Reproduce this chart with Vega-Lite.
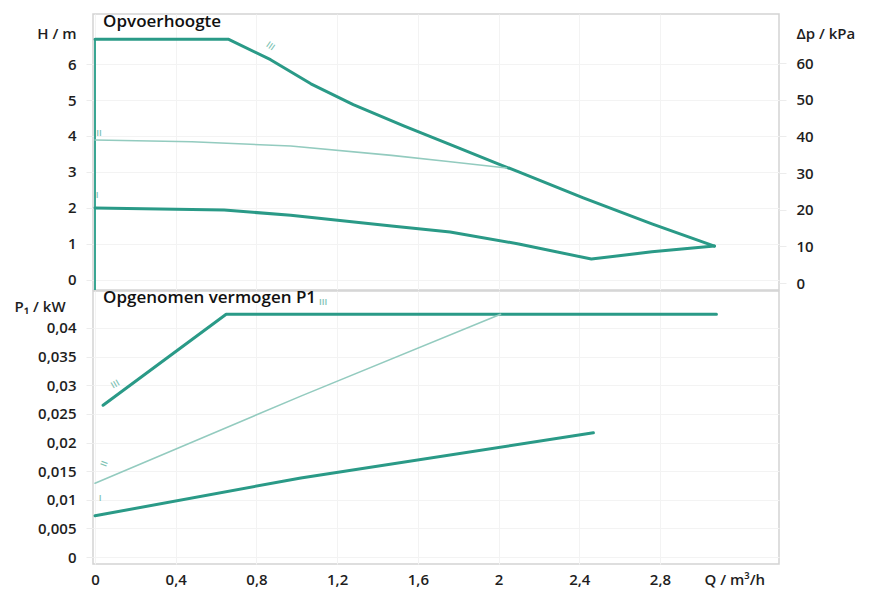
{
  "$schema": "https://vega.github.io/schema/vega-lite/v6.json",
  "autosize": {"type": "pad"},
  "padding": {"left": 13, "top": 12, "right": 0, "bottom": 0},
  "background": "white",
  "spacing": 1,
  "bounds": "flush",
  "config": {
    "font": "Open Sans",
    "view": {"stroke": "#d3d3d3", "strokeWidth": 1.5},
    "axis": {
      "labelFont": "Open Sans", "labelFontSize": 15, "labelFontWeight": 600, "labelColor": "#1e1e1e", "labelOverlap": false,
      "titleFont": "Open Sans", "titleFontSize": 15, "titleFontWeight": 600, "titleColor": "#1e1e1e",
      "domain": false, "gridColor": "#f3f3f3", "tickColor": "#ececec", "tickSize": 7, "labelPadding": 10
    }
  },
  "datasets": {
    "head": [
      {"curve": "III", "Q": 0, "H": 6.69}, {"curve": "III", "Q": 0.66, "H": 6.69}, {"curve": "III", "Q": 0.87, "H": 6.12},
      {"curve": "III", "Q": 1.07, "H": 5.45}, {"curve": "III", "Q": 1.28, "H": 4.87}, {"curve": "III", "Q": 1.53, "H": 4.28},
      {"curve": "III", "Q": 1.78, "H": 3.72}, {"curve": "III", "Q": 2.01, "H": 3.2}, {"curve": "III", "Q": 2.1, "H": 3.0},
      {"curve": "III", "Q": 2.42, "H": 2.28}, {"curve": "III", "Q": 2.76, "H": 1.56}, {"curve": "III", "Q": 3.07, "H": 0.94},
      {"curve": "II", "Q": 0, "H": 3.89}, {"curve": "II", "Q": 0.48, "H": 3.84}, {"curve": "II", "Q": 0.97, "H": 3.72},
      {"curve": "II", "Q": 1.47, "H": 3.46}, {"curve": "II", "Q": 1.75, "H": 3.29}, {"curve": "II", "Q": 2.04, "H": 3.11},
      {"curve": "I", "Q": 0, "H": 2.0}, {"curve": "I", "Q": 0.64, "H": 1.94}, {"curve": "I", "Q": 0.97, "H": 1.8},
      {"curve": "I", "Q": 1.47, "H": 1.5}, {"curve": "I", "Q": 1.76, "H": 1.33}, {"curve": "I", "Q": 2.1, "H": 1.0},
      {"curve": "I", "Q": 2.46, "H": 0.58}, {"curve": "I", "Q": 2.76, "H": 0.78}, {"curve": "I", "Q": 3.07, "H": 0.94}
    ],
    "power": [
      {"curve": "III", "Q": 0.04, "P": 0.0265}, {"curve": "III", "Q": 0.65, "P": 0.0424}, {"curve": "III", "Q": 3.08, "P": 0.0424},
      {"curve": "II", "Q": 0, "P": 0.0129}, {"curve": "II", "Q": 1.02, "P": 0.0281}, {"curve": "II", "Q": 2.01, "P": 0.0424},
      {"curve": "I", "Q": 0, "P": 0.0072}, {"curve": "I", "Q": 1.02, "P": 0.0138}, {"curve": "I", "Q": 2.47, "P": 0.0217}
    ]
  },
  "vconcat": [
    {
      "width": 686,
      "height": 276,
      "resolve": {"scale": {"y": "independent"}},
      "layer": [
        {
          "layer": [
            {
              "data": {"values": [{"Q": 0, "H": -0.28, "H2": 6.69}]},
              "mark": {"type": "rule", "color": "#3aa693", "strokeWidth": 2},
              "encoding": {
                "x": {"field": "Q", "type": "quantitative", "scale": {"domain": [-0.01, 3.39], "nice": false, "zero": false},
                      "axis": {"labels": false, "ticks": false, "title": null, "grid": true, "tickCount": 20, "values": [0, 0.4, 0.8, 1.2, 1.6, 2, 2.4, 2.8]}},
                "y": {"field": "H", "type": "quantitative", "scale": {"domain": [-0.28, 7.39], "nice": false, "zero": false},
                      "axis": {"values": [0, 1, 2, 3, 4, 5, 6], "tickCount": 20, "format": "d", "title": "H / m", "titleAngle": 0, "titleAlign": "right", "titleBaseline": "middle", "titleX": -17, "titleY": 19, "grid": true}},
                "y2": {"field": "H2"}
              }
            },
            {
              "data": {"name": "head"},
              "mark": {"type": "line", "strokeCap": "round", "strokeJoin": "round"},
              "encoding": {
                "x": {"field": "Q", "type": "quantitative"},
                "y": {"field": "H", "type": "quantitative"},
                "detail": {"field": "curve", "type": "nominal"},
                "color": {"condition": {"test": "datum.curve === 'II'", "value": "#93cbbf"}, "value": "#2a9a87"},
                "strokeWidth": {"condition": {"test": "datum.curve === 'II'", "value": 1.6}, "value": 3}
              }
            },
            {
              "data": {"values": [
                {"t": "III", "Q": 0.87, "H": 6.5, "a": 35},
                {"t": "II", "Q": 0.02, "H": 4.08, "a": 0},
                {"t": "I", "Q": 0.01, "H": 2.35, "a": 0}
              ]},
              "mark": {"type": "text", "fontSize": 9, "color": "#7cc2b3", "fontWeight": 600, "align": "center", "baseline": "middle"},
              "encoding": {
                "x": {"field": "Q", "type": "quantitative"},
                "y": {"field": "H", "type": "quantitative"},
                "text": {"field": "t"},
                "angle": {"field": "a", "type": "quantitative", "scale": null}
              }
            },
            {
              "data": {"values": [{"t": "Opvoerhoogte", "Q": 0.04, "H": 7.17}]},
              "mark": {"type": "text", "fontSize": 17, "fontWeight": 600, "color": "#111111", "align": "left", "baseline": "middle"},
              "encoding": {
                "x": {"field": "Q", "type": "quantitative"},
                "y": {"field": "H", "type": "quantitative"},
                "text": {"field": "t"}
              }
            }
          ]
        },
        {
          "data": {"values": [{"kPa": 0}, {"kPa": 60}]},
          "mark": {"type": "point", "opacity": 0},
          "encoding": {
            "y": {"field": "kPa", "type": "quantitative", "scale": {"domain": [-1.9, 73.4], "nice": false, "zero": false},
                  "axis": {"orient": "right", "values": [0, 10, 20, 30, 40, 50, 60], "tickCount": 20, "format": "d", "grid": false, "title": "Δp / kPa", "titleAngle": 0, "titleAlign": "left", "titleBaseline": "middle", "titleX": 17, "titleY": 19}}
          }
        }
      ]
    },
    {
      "width": 686,
      "height": 273,
      "layer": [
        {
          "data": {"name": "power"},
          "mark": {"type": "line", "strokeCap": "round", "strokeJoin": "round"},
          "encoding": {
            "x": {"field": "Q", "type": "quantitative", "scale": {"domain": [-0.01, 3.39], "nice": false, "zero": false},
                  "axis": {"values": [0, 0.4, 0.8, 1.2, 1.6, 2, 2.4, 2.8], "tickCount": 20, "labelExpr": "replace(format(datum.value, '~g'), '.', ',')", "tickSize": 0, "labelPadding": 8, "grid": true,
                           "title": "Q / m³/h", "titleAlign": "left", "titleBaseline": "top", "titleX": 611, "titleY": 8}},
            "y": {"field": "P", "type": "quantitative", "scale": {"domain": [-0.00122, 0.04646], "nice": false, "zero": false},
                  "axis": {"values": [0, 0.005, 0.01, 0.015, 0.02, 0.025, 0.03, 0.035, 0.04], "tickCount": 20, "labelExpr": "replace(format(datum.value, '~g'), '.', ',')", "grid": true,
                           "title": "P₁ / kW", "titleAngle": 0, "titleAlign": "left", "titleBaseline": "middle", "titleX": -79, "titleY": 15}},
            "detail": {"field": "curve", "type": "nominal"},
            "color": {"condition": {"test": "datum.curve === 'II'", "value": "#93cbbf"}, "value": "#2a9a87"},
            "strokeWidth": {"condition": {"test": "datum.curve === 'II'", "value": 1.6}, "value": 3}
          }
        },
        {
          "data": {"values": [
            {"t": "III", "Q": 0.1, "P": 0.0302, "a": -30},
            {"t": "II", "Q": 0.045, "P": 0.0163, "a": -70},
            {"t": "I", "Q": 0.025, "P": 0.0103, "a": 0},
            {"t": "III", "Q": 1.13, "P": 0.0446, "a": 0}
          ]},
          "mark": {"type": "text", "fontSize": 9, "color": "#7cc2b3", "fontWeight": 600, "align": "center", "baseline": "middle"},
          "encoding": {
            "x": {"field": "Q", "type": "quantitative"},
            "y": {"field": "P", "type": "quantitative"},
            "text": {"field": "t"},
            "angle": {"field": "a", "type": "quantitative", "scale": null}
          }
        },
        {
          "data": {"values": [{"t": "Opgenomen vermogen P1", "Q": 0.04, "P": 0.0453}]},
          "mark": {"type": "text", "fontSize": 17, "fontWeight": 600, "color": "#111111", "align": "left", "baseline": "middle"},
          "encoding": {
            "x": {"field": "Q", "type": "quantitative"},
            "y": {"field": "P", "type": "quantitative"},
            "text": {"field": "t"}
          }
        }
      ]
    }
  ]
}
